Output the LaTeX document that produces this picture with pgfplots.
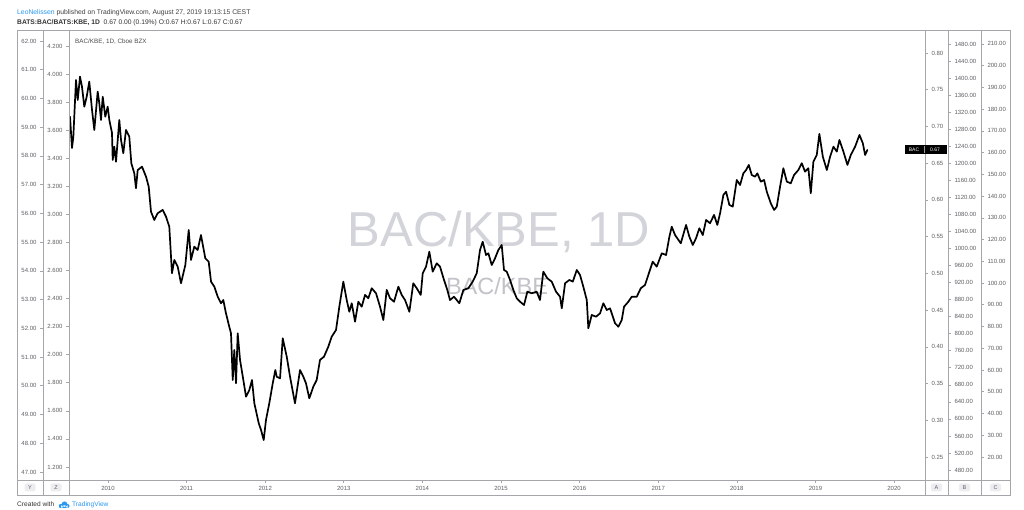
\documentclass[border=0pt]{standalone}
\usepackage{fontspec}
\setmainfont{Liberation Sans}
\usepackage{pgfplots}
\usepackage{pgfplotstable}
\pgfplotsset{compat=1.18}
\definecolor{tvblue}{RGB}{41,152,240}
\definecolor{frame}{RGB}{165,165,170}
\definecolor{lbl}{RGB}{95,95,100}
\definecolor{wm}{RGB}{210,212,217}
\definecolor{keybg}{RGB}{236,237,240}

\pgfplotstableread{
year ratio
2009.517 0.7133
2009.542 0.6707
2009.559 0.6857
2009.593 0.7633
2009.615 0.7360
2009.644 0.7678
2009.669 0.7542
2009.699 0.7269
2009.729 0.7405
2009.762 0.7610
2009.797 0.7224
2009.826 0.6952
2009.869 0.7474
2009.889 0.7320
2009.911 0.7088
2009.933 0.7405
2009.966 0.7133
2009.996 0.7269
2010.017 0.7088
2010.051 0.6911
2010.060 0.6544
2010.080 0.6725
2010.102 0.6520
2010.144 0.7088
2010.166 0.6816
2010.195 0.6635
2010.229 0.6952
2010.271 0.6861
2010.297 0.6499
2010.335 0.6362
2010.356 0.6158
2010.378 0.6407
2010.433 0.6452
2010.484 0.6316
2010.518 0.6180
2010.547 0.5840
2010.589 0.5727
2010.632 0.5818
2010.696 0.5863
2010.738 0.5772
2010.780 0.5635
2010.814 0.5001
2010.844 0.5182
2010.887 0.5091
2010.929 0.4865
2010.984 0.5114
2011.027 0.5591
2011.056 0.5182
2011.098 0.5363
2011.141 0.5318
2011.183 0.5522
2011.238 0.5205
2011.281 0.5159
2011.311 0.4887
2011.353 0.4819
2011.396 0.4682
2011.438 0.4593
2011.467 0.4637
2011.501 0.4456
2011.543 0.4274
2011.565 0.4184
2011.587 0.3548
2011.607 0.3957
2011.629 0.3503
2011.650 0.4184
2011.680 0.3821
2011.722 0.3548
2011.756 0.3321
2011.798 0.3412
2011.832 0.3548
2011.862 0.3231
2011.918 0.2959
2011.947 0.2868
2011.981 0.2731
2012.010 0.3004
2012.052 0.3231
2012.096 0.3503
2012.129 0.3684
2012.147 0.3593
2012.189 0.3571
2012.223 0.4116
2012.274 0.3866
2012.316 0.3593
2012.379 0.3231
2012.443 0.3684
2012.485 0.3593
2012.519 0.3503
2012.561 0.3299
2012.612 0.3457
2012.655 0.3548
2012.697 0.3821
2012.748 0.3866
2012.803 0.4002
2012.846 0.4138
2012.901 0.4229
2012.943 0.4546
2012.994 0.4887
2013.037 0.4637
2013.070 0.4478
2013.101 0.4593
2013.143 0.4342
2013.185 0.4614
2013.228 0.4546
2013.270 0.4706
2013.312 0.4661
2013.355 0.4797
2013.410 0.4729
2013.461 0.4546
2013.503 0.4365
2013.546 0.4774
2013.588 0.4661
2013.639 0.4614
2013.694 0.4819
2013.737 0.4706
2013.779 0.4637
2013.834 0.4478
2013.884 0.4865
2013.928 0.4797
2013.979 0.4706
2014.004 0.5001
2014.046 0.5091
2014.088 0.5295
2014.131 0.5023
2014.182 0.5137
2014.224 0.5091
2014.275 0.4910
2014.317 0.4774
2014.351 0.4637
2014.402 0.4682
2014.470 0.4593
2014.521 0.4774
2014.584 0.4797
2014.640 0.4887
2014.691 0.5001
2014.733 0.5318
2014.767 0.5431
2014.809 0.5250
2014.839 0.5273
2014.882 0.5114
2014.924 0.5205
2014.966 0.5318
2015.009 0.5386
2015.038 0.5046
2015.073 0.5023
2015.115 0.4910
2015.157 0.4774
2015.200 0.4661
2015.242 0.4614
2015.293 0.4569
2015.335 0.4750
2015.391 0.4729
2015.454 0.4750
2015.496 0.4637
2015.538 0.5023
2015.589 0.4933
2015.645 0.4887
2015.700 0.4750
2015.751 0.4682
2015.773 0.4524
2015.815 0.4865
2015.869 0.4910
2015.913 0.4887
2015.964 0.5046
2016.005 0.4978
2016.047 0.4819
2016.091 0.4637
2016.111 0.4252
2016.154 0.4433
2016.209 0.4410
2016.260 0.4456
2016.302 0.4593
2016.345 0.4501
2016.387 0.4524
2016.451 0.4320
2016.493 0.4274
2016.536 0.4365
2016.565 0.4546
2016.620 0.4614
2016.663 0.4682
2016.727 0.4682
2016.778 0.4797
2016.832 0.4842
2016.874 0.4978
2016.930 0.5159
2016.981 0.5091
2017.045 0.5273
2017.100 0.5250
2017.142 0.5499
2017.172 0.5635
2017.214 0.5522
2017.287 0.5409
2017.354 0.5659
2017.396 0.5499
2017.440 0.5386
2017.481 0.5478
2017.523 0.5614
2017.567 0.5522
2017.609 0.5727
2017.659 0.5682
2017.710 0.5795
2017.752 0.5659
2017.787 0.5818
2017.829 0.6067
2017.863 0.6112
2017.905 0.5931
2017.948 0.5908
2017.999 0.6271
2018.041 0.6203
2018.083 0.6362
2018.118 0.6407
2018.152 0.6476
2018.190 0.6339
2018.232 0.6316
2018.261 0.6362
2018.305 0.6248
2018.347 0.6271
2018.381 0.6112
2018.432 0.5954
2018.474 0.5863
2018.508 0.5908
2018.550 0.6180
2018.592 0.6431
2018.636 0.6248
2018.686 0.6226
2018.728 0.6339
2018.783 0.6407
2018.826 0.6499
2018.868 0.6384
2018.910 0.6431
2018.941 0.6090
2018.974 0.6520
2019.017 0.6612
2019.050 0.6898
2019.094 0.6589
2019.145 0.6407
2019.187 0.6589
2019.229 0.6725
2019.272 0.6657
2019.305 0.6816
2019.356 0.6657
2019.407 0.6476
2019.450 0.6612
2019.505 0.6725
2019.560 0.6884
2019.603 0.6771
2019.632 0.6612
2019.661 0.6680
}\bacdata

\pgfplotsset{
  tvside/.style={
    scale only axis, height=450pt, anchor=south west,
    hide x axis, xmin=0, xmax=1, scaled y ticks=false,
    tick align=inside, major tick length=3pt,
    tick style={frame, line width=0.6pt},
    axis line style={frame, line width=0.8pt},
    yticklabel style={font=\fontsize{6}{7}\selectfont, text=lbl},
  },
}
\tikzset{
  keybox/.style={fill=keybg, rounded corners=2pt, minimum width=11pt, minimum height=8pt, inner sep=0pt, font=\fontsize{5.5}{6}\selectfont, text=lbl},
}

\begin{document}
\begin{tikzpicture}
\useasboundingbox (0pt,0pt) rectangle (1024pt,510pt);
\fill[white] (0pt,0pt) rectangle (1024pt,510pt);

% watermarks (behind the line)
\node[font=\fontsize{49}{49}\selectfont, text=wm, inner sep=0pt, anchor=base] at (499pt,263pt) {BAC/KBE, 1D};
\node[font=\fontsize{23.5}{24}\selectfont, text=wm!92!black, inner sep=0pt, anchor=base] at (497pt,215pt) {BAC/KBE};

% header
\node[anchor=base west, inner sep=0pt, font=\fontsize{6.8}{7}\selectfont, text=black!75] at (17pt,495pt)
  {\textcolor{tvblue}{LeoNelissen} published on TradingView.com, August 27, 2019 19:13:15 CEST};
\node[anchor=base west, inner sep=0pt, font=\fontsize{6.7}{7}\selectfont, text=black!80] at (17pt,485pt)
  {\textbf{BATS:BAC/BATS:KBE, 1D}\ \ 0.67 0.00 (0.19\%) O:0.67 H:0.67 L:0.67 C:0.67};

% Y axis
\begin{axis}[tvside, at={(17pt,30pt)}, width=26pt, axis y line*=right,
  ymin=46.72, ymax=62.383, ytick={47,48,...,62},
  yticklabel={\pgfmathprintnumber[fixed,fixed zerofill,precision=2,assume math mode=true]{\tick}},
  yticklabel style={anchor=east, xshift=-3pt}]
\end{axis}
% Z axis
\begin{axis}[tvside, at={(43pt,30pt)}, width=26pt, axis y line*=right,
  ymin=1.107, ymax=4.314, ytick={1.2,1.4,1.6,1.8,2.0,2.2,2.4,2.6,2.8,3.0,3.2,3.4,3.6,3.8,4.0,4.2},
  yticklabel={\pgfmathprintnumber[fixed,fixed zerofill,precision=3,assume math mode=true]{\tick}},
  yticklabel style={anchor=east, xshift=-3pt}]
\end{axis}
% B axis
\begin{axis}[tvside, at={(948pt,30pt)}, width=33pt, axis y line*=left,
  ymin=456.6, ymax=1512.9, ytick={480,520,...,1480},
  yticklabel={\pgfmathprintnumber[fixed,fixed zerofill,precision=2,1000 sep={},assume math mode=true]{\tick}},
  yticklabel style={anchor=west, xshift=3pt}]
\end{axis}
% C axis
\begin{axis}[tvside, at={(981pt,30pt)}, width=29pt, axis y line*=left,
  ymin=9.4, ymax=216.4, ytick={20,30,...,210},
  yticklabel={\pgfmathprintnumber[fixed,fixed zerofill,precision=2,assume math mode=true]{\tick}},
  yticklabel style={anchor=west, xshift=3pt}]
\end{axis}

% main axis (A scale)
\begin{axis}[at={(69pt,30pt)}, anchor=south west, width=856pt, height=450pt, scale only axis,
  xmin=2009.504, xmax=2020.394, ymin=0.2187, ymax=0.8313,
  xtick={2010,2011,...,2020},
  ytick={0.25,0.30,0.35,0.40,0.45,0.50,0.55,0.60,0.65,0.70,0.75,0.80},
  xtick pos=bottom, ytick pos=right, yticklabel pos=right,
  tick align=outside, major tick length=3pt, scaled ticks=false,
  xticklabel={\pgfmathprintnumber[fixed,precision=0,1000 sep={},assume math mode=true]{\tick}},
  yticklabel={\pgfmathprintnumber[fixed,fixed zerofill,precision=2,assume math mode=true]{\tick}},
  ticklabel style={font=\fontsize{6}{7}\selectfont, text=lbl},
  axis line style={frame, line width=0.8pt},
  tick style={frame, line width=0.6pt}]
\addplot[black, line width=1.7pt, line join=round, line cap=round] table[x=year,y=ratio]{\bacdata};
\end{axis}

% frame
\draw[frame, line width=0.8pt] (17pt,15pt) rectangle (1010pt,480pt);
\draw[frame, line width=0.8pt] (17pt,30pt) -- (1010pt,30pt);
\foreach \xx in {43,69,925,948,981} \draw[frame, line width=0.8pt] (\xx pt,15pt) -- (\xx pt,480pt);

% in-plot title
\node[anchor=base west, inner sep=0pt, font=\fontsize{6.3}{7}\selectfont, text=black!70] at (75pt,466pt) {BAC/KBE, 1D, Cboe BZX};

% last value label
\fill[black] (905pt,356pt) rectangle (947pt,364.5pt);
\node[anchor=center, inner sep=0pt, font=\fontsize{5}{6}\selectfont, text=white] at (914pt,360.2pt) {BAC};
\draw[white!60!black, line width=0.4pt] (924pt,357pt) -- (924pt,363.5pt);
\node[anchor=center, inner sep=0pt, font=\fontsize{5}{6}\selectfont, text=white] at (935pt,360.2pt) {0.67};

% axis keys
\node[keybox] at (30pt,22.5pt) {Y};
\node[keybox] at (56pt,22.5pt) {Z};
\node[keybox] at (936.5pt,22.5pt) {A};
\node[keybox] at (964.5pt,22.5pt) {B};
\node[keybox] at (995.5pt,22.5pt) {C};

% footer
\node[anchor=base west, inner sep=0pt, font=\fontsize{6.6}{7}\selectfont, text=black!80] at (17pt,3pt) {Created with};
\fill[tvblue] (61pt,4pt) circle (2.2pt) (64.5pt,5.8pt) circle (2.8pt) (67.5pt,4pt) circle (2pt) (61pt,2pt) rectangle (67.5pt,4.5pt);
\node[anchor=base west, inner sep=0pt, font=\fontsize{6.6}{7}\selectfont, text=tvblue] at (72pt,3pt) {TradingView};
\end{tikzpicture}
\end{document}
